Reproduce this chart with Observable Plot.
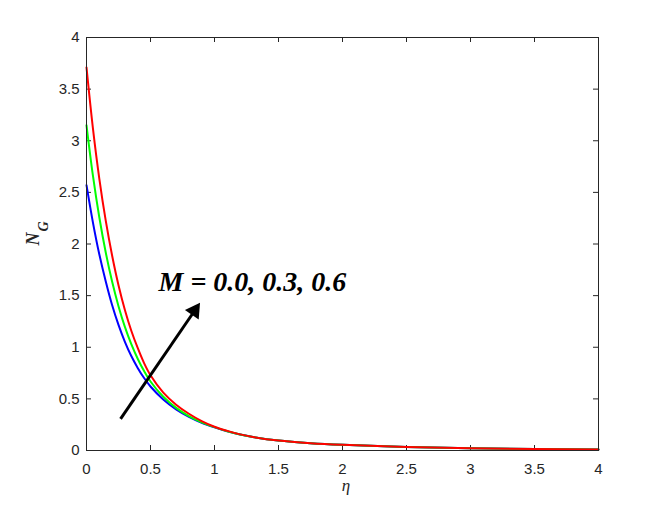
<!DOCTYPE html>
<html><head><meta charset="utf-8">
<script src="https://cdn.jsdelivr.net/npm/d3@7"></script>
<script src="https://cdn.jsdelivr.net/npm/@observablehq/plot@0.6"></script>
<style>body{margin:0;background:#fff}</style>
</head><body><div id="chart"></div>
<script>
// Tick values and labels
const xTicks = [0, 0.5, 1, 1.5, 2, 2.5, 3, 3.5, 4];
const xTickLabels = ["0", "0.5", "1", "1.5", "2", "2.5", "3", "3.5", "4"];
const yTicks = [0, 0.5, 1, 1.5, 2, 2.5, 3, 3.5, 4];
const yTickLabels = ["0", "0.5", "1", "1.5", "2", "2.5", "3", "3.5", "4"];

// Series: N_G vs eta for M = 0.0 (blue), 0.3 (green), 0.6 (red)
const eta   = [0, 0.05, 0.1, 0.15, 0.2, 0.25, 0.3, 0.35, 0.4, 0.45, 0.5, 0.6, 0.7, 0.8, 0.9, 1.0, 1.1, 1.2, 1.3, 1.5, 1.75, 2.0, 2.5, 3.0, 3.5, 4.0];
const ngM00 = [2.57, 2.21, 1.90, 1.64, 1.41, 1.217, 1.053, 0.915, 0.80, 0.702, 0.62, 0.494, 0.398, 0.326, 0.269, 0.224, 0.185, 0.155, 0.131, 0.096, 0.071, 0.055, 0.034, 0.022, 0.015, 0.01];
const ngM03 = [3.15, 2.664, 2.259, 1.92, 1.636, 1.398, 1.197, 1.03, 0.889, 0.769, 0.668, 0.52, 0.413, 0.333, 0.273, 0.226, 0.187, 0.155, 0.131, 0.096, 0.071, 0.055, 0.034, 0.022, 0.015, 0.01];
const ngM06 = [3.71, 3.122, 2.634, 2.228, 1.889, 1.601, 1.361, 1.16, 0.993, 0.846, 0.728, 0.561, 0.444, 0.356, 0.285, 0.23, 0.19, 0.156, 0.131, 0.096, 0.071, 0.055, 0.034, 0.022, 0.015, 0.01];

// Annotation (data units)
const annotationText = ["M = 0.0, 0.3, 0.6"];
const annotationPos = [0.5625, 1.627];
const arrowTail = [0.266, 0.307];
const arrowTip = [0.885, 1.427];

const toRows = ng => eta.map((e, i) => ({eta: e, ng: ng[i]}));
const rowsM00 = toRows(ngM00);
const rowsM03 = toRows(ngM03);
const rowsM06 = toRows(ngM06);

const W = 661, H = 506, mL = 86, mR = 63, mT = 37, mB = 56;
const innerW = W - mL - mR, innerH = H - mT - mB;
const tickLen = 5;
const axisColor = "#262626";

const shaftEnd = [arrowTail[0] + 0.93 * (arrowTip[0] - arrowTail[0]), arrowTail[1] + 0.93 * (arrowTip[1] - arrowTail[1])];
const headPos = [arrowTail[0] + 0.934 * (arrowTip[0] - arrowTail[0]), arrowTail[1] + 0.934 * (arrowTip[1] - arrowTail[1])];

const plot = Plot.plot({
  width: W, height: H,
  marginLeft: mL, marginRight: mR, marginTop: mT, marginBottom: mB,
  style: {background: "white", fontFamily: "'Liberation Sans', Arial, sans-serif", fontSize: "15px", color: axisColor},
  x: {domain: [0, 4]},
  y: {domain: [0, 4]},
  marks: [
    Plot.axisX(xTicks, {tickSize: 0, tickPadding: 13, tickFormat: d => xTickLabels[xTicks.indexOf(d)], label: null}),
    Plot.axisY(yTicks, {tickSize: 0, tickPadding: 7, tickFormat: d => yTickLabels[yTicks.indexOf(d)], label: null}),
    Plot.tickX(xTicks, {x: d => d, insetTop: innerH - tickLen, stroke: axisColor}),
    Plot.tickX(xTicks, {x: d => d, insetBottom: innerH - tickLen, stroke: axisColor}),
    Plot.tickY(yTicks, {y: d => d, insetRight: innerW - tickLen, stroke: axisColor}),
    Plot.tickY(yTicks, {y: d => d, insetLeft: innerW - tickLen, stroke: axisColor}),
    Plot.line(rowsM00, {x: "eta", y: "ng", stroke: "#0000ff", strokeWidth: 2, curve: "catmull-rom"}),
    Plot.line(rowsM03, {x: "eta", y: "ng", stroke: "#00ff00", strokeWidth: 2, curve: "catmull-rom"}),
    Plot.line(rowsM06, {x: "eta", y: "ng", stroke: "#ff0000", strokeWidth: 2, curve: "catmull-rom"}),
    Plot.frame({stroke: axisColor}),
    Plot.link([0], {x1: () => arrowTail[0], y1: () => arrowTail[1], x2: () => shaftEnd[0], y2: () => shaftEnd[1], stroke: "black", strokeWidth: 3}),
    Plot.dot([0], {x: () => headPos[0], y: () => headPos[1], symbol: "triangle", r: 6.2, fill: "black", stroke: "none", rotate: 34.5}),
    Plot.text(annotationText, {x: () => annotationPos[0], y: () => annotationPos[1], text: d => d, textAnchor: "start", lineAnchor: "middle", fontSize: 28, fontFamily: "'Liberation Serif', 'Times New Roman', serif", fontStyle: "italic", fontWeight: "bold", fill: "black"}),
    Plot.text(["N"], {text: d => d, frameAnchor: "left", dx: -53, dy: 1.5, rotate: -90, fontSize: 18, fontFamily: "'Liberation Serif', serif", fontStyle: "italic", fontWeight: "bold", fill: axisColor}),
    Plot.text(["G"], {text: d => d, frameAnchor: "left", dx: -43, dy: -12.5, rotate: -90, fontSize: 14, fontFamily: "'Liberation Serif', serif", fontStyle: "italic", fontWeight: "bold", fill: axisColor}),
    Plot.text(["η"], {text: d => d, frameAnchor: "bottom", dx: 3.5, dy: 40, fontSize: 17, fontFamily: "'Liberation Serif', serif", fontStyle: "italic", fill: axisColor})
  ]
});
document.getElementById("chart").appendChild(plot);
</script>
</body></html>
